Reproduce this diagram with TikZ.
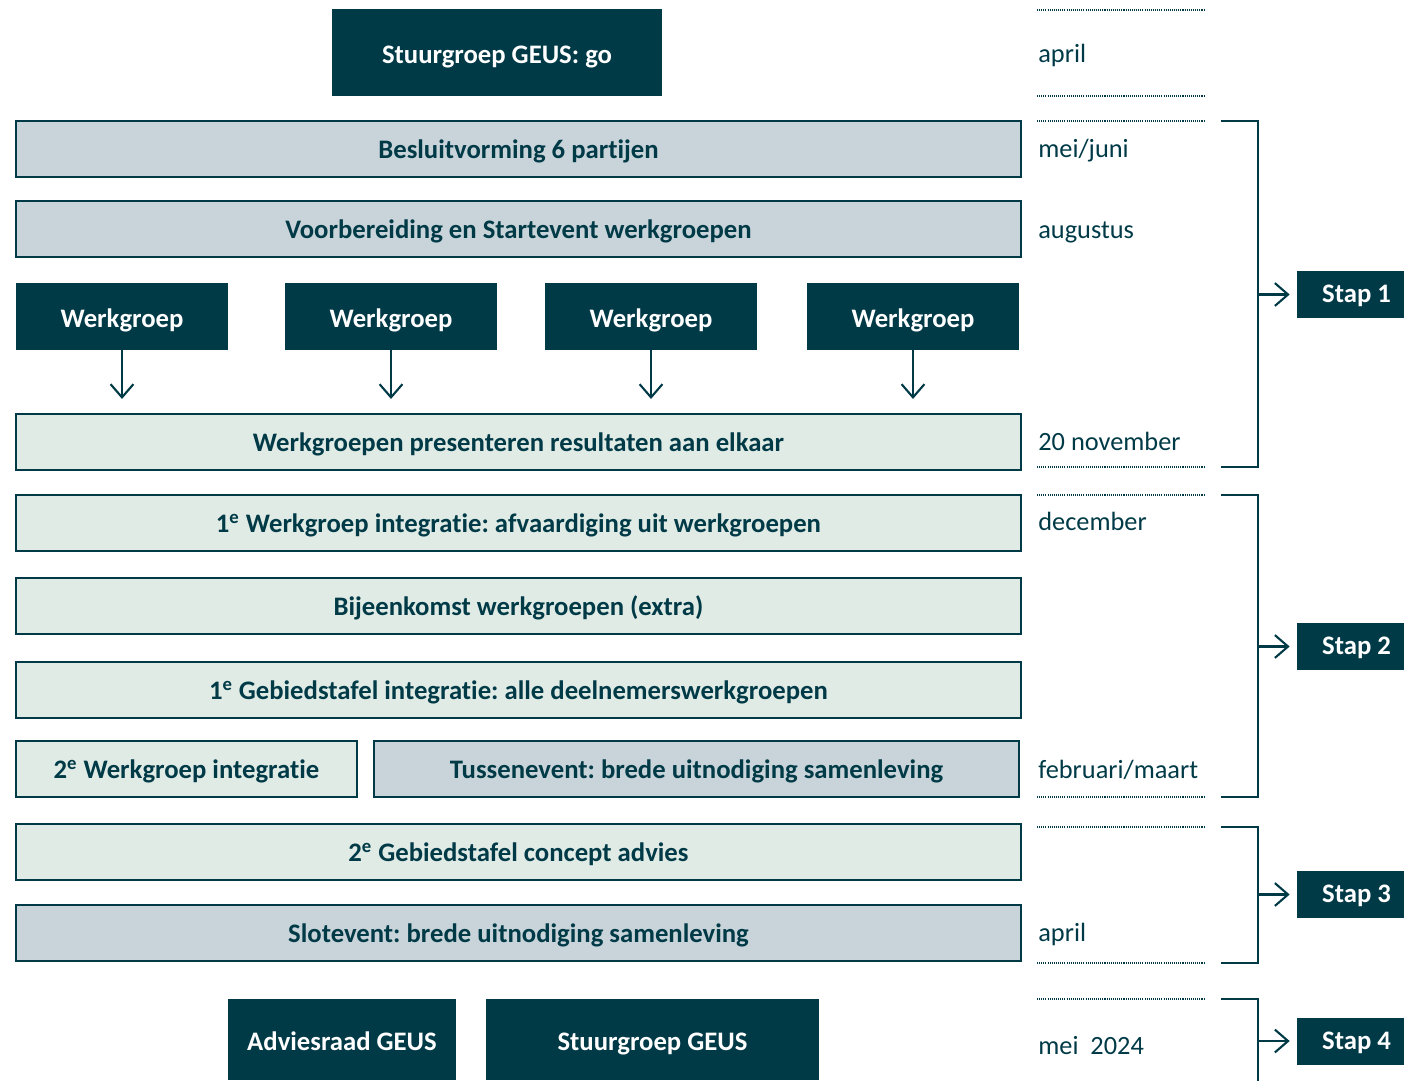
\documentclass[tikz,border=0pt]{standalone}
\usepackage{fontspec}
\setmainfont[Ligatures=NoCommon]{Carlito}
\frenchspacing
\usetikzlibrary{arrows.meta}
\definecolor{geusdark}{RGB}{0,58,71}
\definecolor{geusgrey}{RGB}{200,212,217}
\definecolor{geusgreen}{RGB}{225,235,230}
\tikzset{
  label/.style={text height=10.8pt, text depth=0pt, inner sep=0pt},
  bar/.style={label, draw=geusdark, line width=1.2pt, text=geusdark, font=\bfseries\fontsize{15.2}{17}\selectfont},
  greybar/.style={bar, fill=geusgrey},
  greenbar/.style={bar, fill=geusgreen},
  darkbox/.style={label, text height=12.5pt, fill=geusdark, text=white, font=\bfseries\fontsize{15.2}{17}\selectfont},
  stapbox/.style={darkbox, text height=9.5pt, minimum width=2.38cm, minimum height=0.94cm},
  wide/.style={minimum width=20.1cm, minimum height=1.12cm},
  date/.style={label, text height=11pt, anchor=west, text=geusdark, font=\fontsize{15}{17}\selectfont},
  dots/.style={draw=geusdark, line width=0.6pt, dash pattern=on 0.6pt off 0.6pt},
  bracket/.style={draw=geusdark, line width=1.1pt},
  pointer/.style={draw=geusdark, line width=1.2pt, -{Straight Barb[length=7.5pt,width=13pt]}}
}
\newcommand{\ord}[1]{#1\textsuperscript{e}}
\begin{document}
\begin{tikzpicture}[x=0.02cm, y=-0.02cm]
\useasboundingbox (0,0) rectangle (1404,1080);

% left column
\node[darkbox, minimum width=6.6cm, minimum height=1.74cm] (go) at (497,52.5) {Stuurgroep GEUS: go};
\node[greybar, wide] (besluit) at (518.5,149) {Besluitvorming 6 partijen};
\node[greybar, wide] (start) at (518.5,229) {Voorbereiding en Startevent werkgroepen};
\node[darkbox, minimum width=4.24cm, minimum height=1.34cm] (wg1) at (122,316.5) {Werkgroep};
\node[darkbox, minimum width=4.24cm, minimum height=1.34cm] (wg2) at (391,316.5) {Werkgroep};
\node[darkbox, minimum width=4.24cm, minimum height=1.34cm] (wg3) at (651,316.5) {Werkgroep};
\node[darkbox, minimum width=4.24cm, minimum height=1.34cm] (wg4) at (913,316.5) {Werkgroep};
\node[greenbar, wide] (pres) at (518.5,442) {Werkgroepen presenteren resultaten aan elkaar};
\node[greenbar, wide] (integr) at (518.5,523) {\ord{1} Werkgroep integratie: afvaardiging uit werkgroepen};
\node[greenbar, wide] (bijeen) at (518.5,606) {Bijeenkomst werkgroepen (extra)};
\node[greenbar, wide] (tafel) at (518.5,690) {\ord{1} Gebiedstafel integratie: alle deelnemerswerkgroepen};
\node[greenbar, minimum width=6.82cm, minimum height=1.12cm] (integr2) at (186.5,769) {\ord{2} Werkgroep integratie};
\node[greybar, minimum width=12.9cm, minimum height=1.12cm] (tussen) at (696.5,769) {Tussenevent: brede uitnodiging samenleving};
\node[greenbar, wide] (tafel2) at (518.5,852) {\ord{2} Gebiedstafel concept advies};
\node[greybar, wide] (slot) at (518.5,933) {Slotevent: brede uitnodiging samenleving};
\node[darkbox, minimum width=4.56cm, minimum height=1.62cm] (advies) at (342,1039.5) {Adviesraad GEUS};
\node[darkbox, minimum width=6.66cm, minimum height=1.62cm] (stuur) at (652.5,1039.5) {Stuurgroep GEUS};

\foreach \w in {wg1,wg2,wg3,wg4}
  \draw[pointer, shorten >=0.28cm] (\w.south) -- (\w.south |- pres.north);

% dates
\node[date] (d1) at (1038,53) {april};
\node[date] (d2) at (1038,148) {mei/juni};
\node[date] (d3) at (1038,229) {augustus};
\node[date] (d4) at (1038,441) {20 november};
\node[date] (d5) at (1038,521) {december};
\node[date] (d6) at (1038,769) {februari/maart};
\node[date] (d7) at (1038,932) {april};
\node[date] (d8) at (1038,1045) {mei\ \ 2024};
\foreach \y in {10,96,121,467,495,797,827,963,999}
  \draw[dots] (1037,\y) -- (1204,\y);

% stappen
\node[stapbox] (stap1) at (1356.5,294.5) {Stap 1};
\node[stapbox] (stap2) at (1356.5,646.5) {Stap 2};
\node[stapbox] (stap3) at (1356.5,894.5) {Stap 3};
\node[stapbox] (stap4) at (1356.5,1041) {Stap 4};

\draw[bracket] (1221,121) -| (1258,467) -- (1221,467);
\draw[bracket] (1221,495) -| (1258,797) -- (1221,797);
\draw[bracket] (1221,827) -| (1258,963) -- (1221,963);
\draw[bracket] (1221,999) -| (1258,1082);
\coordinate (b1) at (1258,294.5);
\coordinate (b2) at (1258,646.5);
\coordinate (b3) at (1258,894.5);
\coordinate (b4) at (1258,1041);
\foreach \i in {1,2,3,4}
  \draw[pointer, shorten >=0.14cm] (b\i) -- (stap\i.west);
\end{tikzpicture}
\end{document}
